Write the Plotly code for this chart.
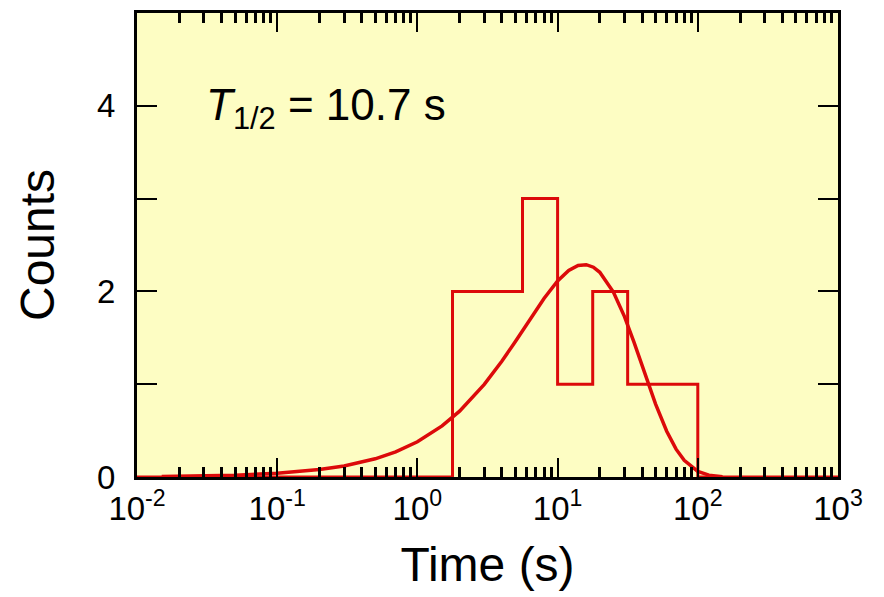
import plotly.graph_objects as go

# Histogram (log-spaced bins)
bin_edges = [0.01, 1.78, 3.16, 5.62, 10.0, 17.8, 31.6, 56.2, 100.0, 1000.0]
bin_counts = [0, 2, 2, 3, 1, 2, 1, 1, 0]

# Fitted curve, points
fit_t = [0.015, 0.02, 0.03, 0.05, 0.1, 0.2, 0.3, 0.5, 0.7, 1.0, 1.5, 2.0, 3.0, 4.0,
         5.0, 6.0, 8.0, 10.0, 12.0, 14.0, 16.0, 18.0, 20.0, 25.0, 30.0, 35.0, 40.0,
         50.0, 60.0, 70.0, 80.0, 100.0, 120.0, 150.0]
fit_counts = [0.006, 0.008, 0.012, 0.020, 0.040, 0.080, 0.119, 0.196, 0.271, 0.379,
              0.551, 0.710, 0.998, 1.247, 1.461, 1.643, 1.923, 2.112, 2.225, 2.280,
              2.288, 2.261, 2.206, 1.993, 1.729, 1.457, 1.204, 0.786, 0.493, 0.300,
              0.179, 0.061, 0.020, 0.004]

x_tickvals = [0.01, 0.1, 1, 10, 100, 1000]
x_ticktext = ["10<sup>-2</sup>", "10<sup>-1</sup>", "10<sup>0</sup>",
              "10<sup>1</sup>", "10<sup>2</sup>", "10<sup>3</sup>"]
y_tickvals = [0, 1, 2, 3, 4, 5]
y_ticktext = ["0", "", "2", "", "4", ""]

minor_vals = [m * 10 ** e for e in range(-2, 3) for m in range(2, 10)]

RED = "#DC0A0A"
FONT = "Arial, Liberation Sans, sans-serif"

fig = go.Figure()
fig.add_trace(go.Scatter(
    x=bin_edges, y=bin_counts + [bin_counts[-1]], mode="lines",
    line=dict(color=RED, width=3, shape="hv"), showlegend=False))
fig.add_trace(go.Scatter(
    x=fit_t, y=fit_counts, mode="lines",
    line=dict(color=RED, width=3.5), showlegend=False))

fig.update_layout(
    width=884, height=597,
    margin=dict(l=137, r=46, t=10, b=120),
    paper_bgcolor="white", plot_bgcolor="#FDFDC3",
    font=dict(family=FONT, color="black"),
    xaxis=dict(
        type="log", range=[-2, 3],
        tickmode="array", tickvals=x_tickvals, ticktext=x_ticktext,
        ticks="inside", ticklen=19, tickwidth=2, tickcolor="black",
        minor=dict(tickmode="array", tickvals=minor_vals, ticks="inside",
                   ticklen=10, tickwidth=2.5, tickcolor="black", showgrid=False),
        showline=True, linewidth=3, linecolor="black", mirror="allticks",
        showgrid=False, zeroline=False,
        tickfont=dict(size=33, family=FONT),
        title=dict(text="Time (s)", font=dict(size=48, family=FONT), standoff=22),
    ),
    yaxis=dict(
        range=[0, 5],
        tickmode="array", tickvals=y_tickvals, ticktext=y_ticktext,
        ticks="inside", ticklen=20, tickwidth=2, tickcolor="black",
        showline=True, linewidth=3, linecolor="black", mirror="allticks",
        showgrid=False, zeroline=False,
        tickfont=dict(size=33, family=FONT),
        ticklabelstandoff=12,
        title=dict(text="Counts", font=dict(size=48, family=FONT), standoff=28),
    ),
    annotations=[dict(
        text="<i>T</i><sub>1/2</sub> = 10.7 s", xref="paper", yref="paper",
        x=0.096, y=0.795, xanchor="left", yanchor="middle", showarrow=False,
        font=dict(size=44, family=FONT, color="black"))],
)

fig.write_html("out.html")
